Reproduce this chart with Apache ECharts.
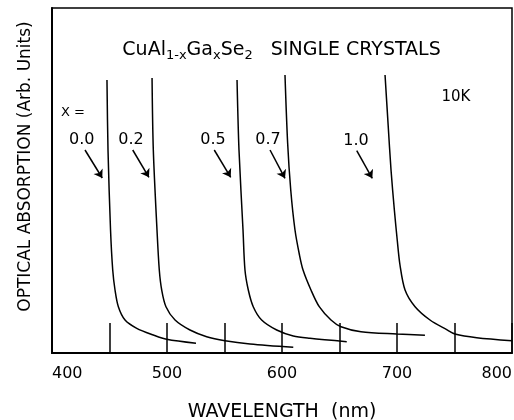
<!DOCTYPE html>
<html>
<head>
<meta charset="utf-8">
<script src="https://cdn.jsdelivr.net/npm/echarts@6/dist/echarts.min.js"></script>
<style>html,body{margin:0;padding:0;background:#fff}#c{width:514px;height:420px}</style>
</head>
<body>
<div id="c"></div>
<script>
// ---- data (wavelength nm, absorption arb. units) ----
const xTicks = [400, 500, 600, 700, 800];
const compositions = ['0.0', '0.2', '0.5', '0.7', '1.0'];

const curve00 = [[447.8,273],[448.7,203],[450.9,123],[452.8,83],[454.8,63],[457.7,46.3],[463.5,33],[473.7,24.7],[488.1,18],[499.7,13.7],[525.2,9.7]];
const curve02 = [[487.0,275],[488.1,203],[491.3,123],[493.3,83],[495.4,63],[499.1,46.3],[507.0,33],[520.0,23],[534.5,16.3],[550.4,12.3],[572.2,9],[609.8,5.7]];
const curve05 = [[560.9,273],[562.6,203],[566.1,123],[567.8,83],[570.7,63],[575.0,46.3],[582.3,33],[595.4,23],[609.8,17],[624.3,14.7],[656.3,11.3]];
const curve07 = [[602.6,278],[604.9,210],[607.6,163],[611.3,123],[615.2,98],[618.3,83],[625.2,63],[632.4,46.3],[642.6,33],[651.3,26.3],[668.7,21.3],[699.7,19],[724.3,17.7]];
const curve10 = [[689.6,278],[692.3,228],[694.8,183],[697.7,143],[700.2,113],[702.6,88],[707.0,63],[715.7,46.3],[728.7,33],[743.2,23.3],[750.4,19],[769.3,15.3],[800,12.3]];

// label anchor points (data coords)
const labelX = [425.8, 468.7, 540.0, 587.8, 664.3];
const labelY = [213, 213, 213, 213, 212.3];
// arrows: start -> end (data coords)
const arrowStart = [[428.7,203],[470.2,203],[541.1,203],[589.6,203],[665,202.3]];
const arrowEnd   = [[443.7,175],[484.3,175.7],[555.4,175.7],[602.6,174.7],[678.5,174.7]];

const titlePos = [599.6, 303];
const xEqPos = [418.3, 240.3];
const tempPos = [751.3, 256];
const tempText = '10K';

const curves = [curve00, curve02, curve05, curve07, curve10];
const FONT = 'DejaVu Sans';

const chart = echarts.init(document.getElementById('c'), null, {renderer: 'canvas'});

const series = curves.map((c, i) => ({
  type: 'line',
  name: 'x=' + compositions[i],
  data: c,
  showSymbol: false,
  smooth: 0.3,
  silent: true,
  lineStyle: {color: '#000', width: 1.5},
  z: 3
}));

series.push({
  type: 'lines',
  coordinateSystem: 'cartesian2d',
  silent: true,
  symbol: ['none', 'arrow'],
  symbolSize: 8,
  lineStyle: {color: '#000', width: 1.5, opacity: 1},
  data: arrowStart.map((s, i) => ({coords: [s, arrowEnd[i]]})),
  z: 4
});

const textData = compositions.map((t, i) => ({
  value: [labelX[i], labelY[i]],
  label: {formatter: t, fontSize: 16}
}));
textData.push({value: xEqPos, label: {formatter: 'X =', fontSize: 13}});
textData.push({value: tempPos, label: {formatter: tempText, fontSize: 15}});
textData.push({
  value: titlePos,
  label: {
    formatter: 'CuAl{s|1-x}Ga{s|x}Se{s|2}   SINGLE CRYSTALS',
    fontSize: 19,
    lineHeight: 25,
    rich: {s: {fontSize: 13, lineHeight: 13, verticalAlign: 'bottom', fontFamily: FONT, color: '#000'}}
  }
});

series.push({
  type: 'scatter',
  silent: true,
  symbolSize: 1,
  itemStyle: {color: 'rgba(255,255,255,0)', opacity: 1},
  label: {show: true, position: 'inside', color: '#000', textBorderWidth: 0, textBorderColor: 'transparent',
          fontFamily: FONT, align: 'center', verticalAlign: 'middle'},
  data: textData,
  z: 5
});

chart.setOption({
  animation: false,
  backgroundColor: '#fff',
  grid: {left: 52, right: 2, top: 8, bottom: 67, outerBoundsMode: 'none', containLabel: false,
         show: true, borderColor: '#000', borderWidth: 1.5, backgroundColor: 'transparent'},
  xAxis: {
    type: 'value', min: 400, max: 800, interval: 50,
    name: 'WAVELENGTH  (nm)', nameLocation: 'middle', nameGap: 50,
    nameTextStyle: {fontFamily: FONT, fontSize: 19, color: '#000'},
    axisLine: {show: true, lineStyle: {color: '#000', width: 2}},
    axisTick: {show: true, inside: true, length: 30, lineStyle: {color: '#000', width: 1.5}},
    axisLabel: {
      margin: 13, fontFamily: FONT, fontSize: 16, color: '#000',
      alignMinLabel: 'left', alignMaxLabel: 'right', hideOverlap: false,
      formatter: v => (xTicks.indexOf(v) >= 0 ? String(v) : '')
    },
    splitLine: {show: false}
  },
  yAxis: {
    type: 'value', min: 0, max: 345,
    name: 'OPTICAL ABSORPTION (Arb. Units)', nameLocation: 'middle', nameGap: 18,
    nameTextStyle: {fontFamily: FONT, fontSize: 17, color: '#000', padding: [0, 0, 0, 28]},
    axisLine: {show: true, lineStyle: {color: '#000', width: 2}},
    axisTick: {show: false}, axisLabel: {show: false}, splitLine: {show: false}
  },
  series: series
});
</script>
</body>
</html>
